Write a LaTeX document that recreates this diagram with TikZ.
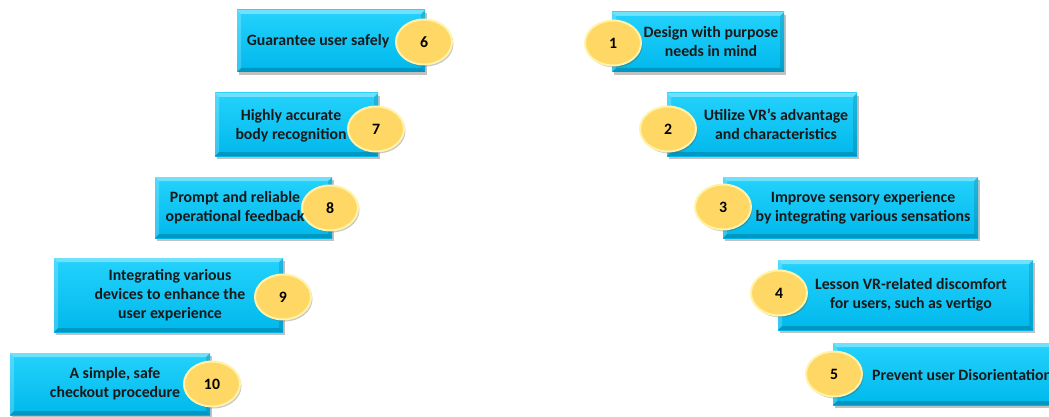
\documentclass[tikz,border=0pt]{standalone}
\usepackage{fontspec}
\setmainfont{Carlito}
\usetikzlibrary{shapes.geometric,shadows}

\definecolor{cardtop}{RGB}{36,210,252}
\definecolor{cardbot}{RGB}{0,184,236}
\definecolor{badgefill}{RGB}{255,215,100}
\definecolor{badgeedge}{RGB}{255,243,170}

\tikzset{
  x=1pt, y=-1pt,
  card/.style={rectangle, inner sep=0pt, draw=none,
    top color=cardtop, bottom color=cardbot,
    drop shadow={shadow xshift=2pt, shadow yshift=-3pt, opacity=.35, fill=black!70},
    path picture={
      % bevelled rim: light top/left, dark bottom/right
      \fill[white, opacity=.35] (path picture bounding box.north west) -- (path picture bounding box.north east)
        -- ([shift={(-4pt,-4pt)}]path picture bounding box.north east) -- ([shift={(4pt,-4pt)}]path picture bounding box.north west) -- cycle;
      \fill[white, opacity=.2] (path picture bounding box.north west) -- ([shift={(4pt,-4pt)}]path picture bounding box.north west)
        -- ([shift={(4pt,4pt)}]path picture bounding box.south west) -- (path picture bounding box.south west) -- cycle;
      \fill[black, opacity=.18] (path picture bounding box.south west) -- (path picture bounding box.south east)
        -- ([shift={(-4pt,4pt)}]path picture bounding box.south east) -- ([shift={(4pt,4pt)}]path picture bounding box.south west) -- cycle;
      \fill[black, opacity=.12] (path picture bounding box.north east) -- (path picture bounding box.south east)
        -- ([shift={(-4pt,4pt)}]path picture bounding box.south east) -- ([shift={(-4pt,-4pt)}]path picture bounding box.north east) -- cycle;
    }},
  badge/.style={ellipse, inner sep=0pt, minimum width=56pt, minimum height=45pt,
    fill=badgefill, draw=badgeedge, line width=2pt,
    drop shadow={shadow xshift=1.5pt, shadow yshift=-2pt, opacity=.3, fill=black!70},
    font=\bfseries\fontsize{15.8}{19}\selectfont},
  cardtext/.style={inner sep=0pt, align=center, text=black!90,
    font=\bfseries\fontsize{15.8}{19}\selectfont}
}

\begin{document}
\begin{tikzpicture}
\useasboundingbox (0,0) rectangle (1049,417);

% right column: items 1-5
\node[card, minimum width=172pt, minimum height=60pt] (c1) at (698,42) {};
\node[badge] (n1) at (613,43) {1};
\node[cardtext] (t1) at (711,42) {Design with purpose\\needs in mind};

\node[card, minimum width=190pt, minimum height=63pt] (c2) at (762,124.5) {};
\node[badge] (n2) at (668,129) {2};
\node[cardtext] (t2) at (776,124.5) {Utilize VR’s advantage\\and characteristics};

\node[card, minimum width=255pt, minimum height=61pt] (c3) at (850.5,207.5) {};
\node[badge] (n3) at (723,207) {3};
\node[cardtext] (t3) at (863,207.5) {Improve sensory experience\\by integrating various sensations};

\node[card, minimum width=255pt, minimum height=70pt] (c4) at (905.5,295) {};
\node[badge] (n4) at (779,293) {4};
\node[cardtext] (t4) at (911,295) {Lesson VR-related discomfort\\for users, such as vertigo};

\node[card, minimum width=267pt, minimum height=62pt] (c5) at (966.5,374) {};
\node[badge] (n5) at (834,374) {5};
\node[cardtext, anchor=west] (t5) at (872,375) {Prevent user Disorientation};

% left column: items 6-10
\node[card, minimum width=188pt, minimum height=62pt] (c6) at (331,41) {};
\node[badge] (n6) at (424,42) {6};
\node[cardtext] (t6) at (318,41) {Guarantee user safely};

\node[card, minimum width=163pt, minimum height=63pt] (c7) at (296.5,124.5) {};
\node[badge] (n7) at (376,129) {7};
\node[cardtext] (t7) at (291,126) {Highly accurate\\body recognition};

\node[card, minimum width=177pt, minimum height=61pt] (c8) at (243.5,207.5) {};
\node[badge] (n8) at (330,208) {8};
\node[cardtext] (t8) at (235,207.5) {Prompt and reliable\\operational feedback};

\node[card, minimum width=229pt, minimum height=74pt] (c9) at (168.5,295) {};
\node[badge] (n9) at (283,297) {9};
\node[cardtext] (t9) at (170,295) {Integrating various\\devices to enhance the\\user experience};

\node[card, minimum width=200pt, minimum height=62pt] (c10) at (110,384) {};
\node[badge] (n10) at (212,384) {10};
\node[cardtext] (t10) at (115,384) {A simple, safe\\checkout procedure};
\end{tikzpicture}
\end{document}
